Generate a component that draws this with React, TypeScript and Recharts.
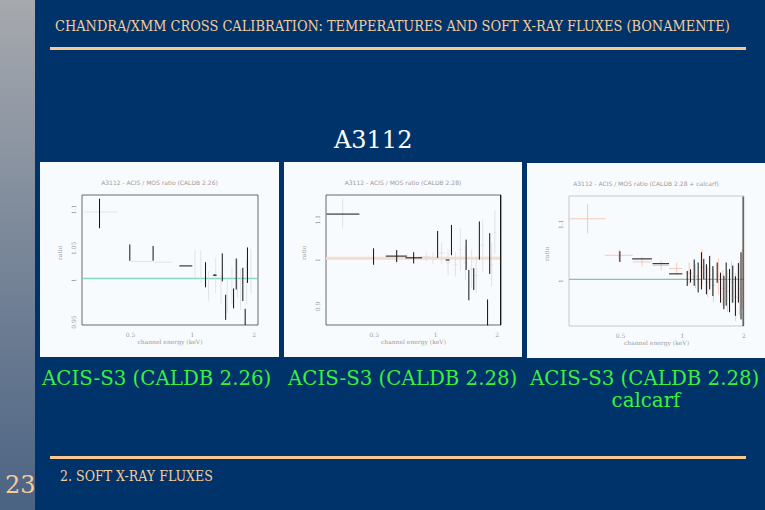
import { ScatterChart, Scatter, XAxis, YAxis, ErrorBar, ReferenceLine, ReferenceArea } from "recharts";

// panel 1: ACIS-S3 (CALDB 2.26)
const p1Energy = [0.353, 0.496, 0.644, 0.932, 1.16, 1.287, 1.4, 1.454, 1.589, 1.637, 1.763, 1.81, 1.857];
const p1Ratio = [1.088, 1.035, 1.034, 1.017, 1.005, 1.0045, 1.015, 0.961, 0.973, 1.006, 0.992, 0.948, 1.018];
const p1Err = [0.02, 0.011, 0.01, 0, 0.017, 0.001, 0.019, 0.017, 0.0135, 0.021, 0.0225, 0.011, 0.024];
const p1Lo = [0.353, 0.496, 0.644, 0.865, 1.16, 1.26, 1.4, 1.454, 1.589, 1.637, 1.763, 1.81, 1.857];
const p1Hi = [0.353, 0.496, 0.644, 1.0, 1.16, 1.315, 1.4, 1.454, 1.589, 1.637, 1.763, 1.81, 1.857];
const p1bEnergy = [0.35, 0.56, 0.72, 1.03, 1.1, 1.2, 1.3, 1.38, 1.48, 1.56, 1.66, 1.72, 1.84, 1.93];
const p1bRatio = [1.09, 1.023, 1.022, 1.02, 1.016, 0.99, 1.004, 0.985, 0.975, 0.99, 1.0, 0.985, 0.995, 1.01];
const p1bErr = [0.0, 0.0, 0.0, 0.018, 0.022, 0.02, 0.024, 0.02, 0.022, 0.025, 0.026, 0.028, 0.03, 0.03];
const p1bLo = [0.298, 0.5, 0.65, 1.03, 1.1, 1.2, 1.3, 1.38, 1.48, 1.56, 1.66, 1.72, 1.84, 1.93];
const p1bHi = [0.43, 0.64, 0.8, 1.03, 1.1, 1.2, 1.3, 1.38, 1.48, 1.56, 1.66, 1.72, 1.84, 1.93];

// panel 2: ACIS-S3 (CALDB 2.28)
const p2Energy = [0.35, 0.496, 0.644, 0.78, 1.022, 1.143, 1.195, 1.41, 1.454, 1.537, 1.637, 1.796, 1.84, 2.08];
const p2Ratio = [1.102, 1.004, 1.005, 1.001, 1.032, 0.996, 1.042, 1.008, 0.938, 0.952, 1.041, 0.875, 1.011, 0.996];
const p2Err = [0, 0.019, 0.014, 0.013, 0.031, 0, 0.035, 0.035, 0.035, 0.025, 0.044, 0.03, 0.047, 0.15];
const p2Lo = [0.292, 0.496, 0.569, 0.711, 1.022, 1.12, 1.195, 1.41, 1.454, 1.537, 1.637, 1.796, 1.84, 2.08];
const p2Hi = [0.423, 0.496, 0.724, 0.858, 1.022, 1.17, 1.195, 1.41, 1.454, 1.537, 1.637, 1.796, 1.84, 2.08];
const p2bEnergy = [0.35, 0.9, 0.97, 1.07, 1.15, 1.25, 1.32, 1.4, 1.5, 1.58, 1.7, 1.88, 1.95];
const p2bRatio = [1.104, 1.003, 1.0, 1.012, 0.99, 0.985, 1.02, 0.99, 0.975, 0.96, 1.03, 0.985, 1.06];
const p2bErr = [0.035, 0.01, 0.014, 0.025, 0.03, 0.028, 0.05, 0.04, 0.045, 0.04, 0.06, 0.05, 0.05];
const p2bLo = [0.35, 0.82, 0.93, 1.04, 1.12, 1.22, 1.3, 1.38, 1.47, 1.55, 1.67, 1.85, 1.93];
const p2bHi = [0.35, 0.94, 1.02, 1.1, 1.18, 1.28, 1.35, 1.43, 1.53, 1.61, 1.73, 1.91, 1.98];

// panel 3: ACIS-S3 (CALDB 2.28) calcarf
const p3Energy = [0.496, 0.636, 0.785, 0.93, 1.057, 1.097, 1.143, 1.195, 1.24, 1.273, 1.311, 1.36, 1.41, 1.48, 1.537, 1.595, 1.637, 1.7, 1.763, 1.816, 1.878, 1.934, 1.98];
const p3Ratio = [1.038, 1.034, 1.026, 1.009, 1.0014, 1.0056, 1.011, 1.003, 1.014, 1.017, 1.0, 1.011, 0.997, 1.011, 0.986, 0.978, 0.992, 0.981, 0.992, 0.972, 0.994, 0.989, 1.03];
const p3Err = [0.009, 0, 0, 0, 0.0125, 0.011, 0.022, 0.025, 0.031, 0.017, 0.025, 0.028, 0.025, 0.017, 0.025, 0.028, 0.036, 0.036, 0.031, 0.033, 0.033, 0.056, 0.108];
const p3Lo = [0.496, 0.569, 0.716, 0.862, 1.057, 1.097, 1.143, 1.195, 1.24, 1.273, 1.311, 1.36, 1.41, 1.48, 1.537, 1.595, 1.637, 1.7, 1.763, 1.816, 1.878, 1.934, 1.98];
const p3Hi = [0.496, 0.711, 0.862, 1.0, 1.057, 1.097, 1.143, 1.195, 1.24, 1.273, 1.311, 1.36, 1.41, 1.48, 1.537, 1.595, 1.637, 1.7, 1.763, 1.816, 1.878, 1.934, 1.98];
const p3bEnergy = [0.345, 0.491, 0.636, 0.789, 0.939, 1.08, 1.16, 1.25, 1.33, 1.42, 1.5, 1.58, 1.66, 1.74, 1.82, 1.9, 1.96];
const p3bRatio = [1.101, 1.04, 1.029, 1.023, 1.018, 1.01, 1.005, 1.02, 0.995, 0.99, 1.005, 0.985, 0.98, 0.995, 0.97, 0.985, 1.0];
const p3bErr = [0.025, 0.01, 0.008, 0.008, 0.01, 0.018, 0.02, 0.03, 0.025, 0.028, 0.03, 0.03, 0.035, 0.035, 0.04, 0.045, 0.05];
const p3bLo = [0.281, 0.42, 0.573, 0.716, 0.862, 1.04, 1.12, 1.22, 1.3, 1.39, 1.47, 1.55, 1.63, 1.71, 1.79, 1.87, 1.94];
const p3bHi = [0.423, 0.573, 0.711, 0.862, 1.0, 1.12, 1.2, 1.28, 1.36, 1.45, 1.53, 1.61, 1.69, 1.77, 1.85, 1.93, 1.99];

const xTicks = [0.5, 1, 2];

type Pt = { e: number; r: number; ey: number; ex: [number, number] };

const build = (en: number[], ra: number[], er: number[], lo: number[], hi: number[]): Pt[] =>
  en.map((e, i) => ({ e, r: ra[i], ey: er[i], ex: [e - lo[i], hi[i] - e] }));

const noDot = () => <g />;

const faint = "#9c9c9c";

type Series = { data: Pt[]; color: string; width: number };

function Panel(props: {
  left: number;
  top: number;
  w: number;
  title: string;
  xDomain: [number, number];
  yDomain: [number, number];
  yTicks: number[];
  refColor: string;
  refWidth: number;
  frame: string;
  series: Series[];
}) {
  const { left, top, w, title, xDomain, yDomain, yTicks, refColor, refWidth, frame, series } = props;
  const h = 195;
  return (
    <div style={{ position: "absolute", left, top, width: w, height: h, background: "#f8fbfd" }}>
      <div
        style={{
          position: "absolute",
          top: 17,
          width: "100%",
          textAlign: "center",
          fontSize: 6,
          color: faint,
          fontFamily: "DejaVu Sans",
        }}
      >
        {title}
      </div>
      <ScatterChart width={w} height={h} margin={{ top: 33, right: 21, bottom: 0, left: 12 }}>
        <XAxis
          dataKey="e"
          type="number"
          scale="log"
          domain={xDomain}
          allowDataOverflow
          ticks={xTicks}
          height={32}
          axisLine={false}
          tickLine={false}
          tick={{ fontSize: 6, fill: faint }}
          label={{ value: "channel energy (keV)", position: "insideBottom", offset: 13, fontSize: 6, fill: faint }}
        />
        <YAxis
          dataKey="r"
          type="number"
          domain={yDomain}
          allowDataOverflow
          ticks={yTicks}
          width={30}
          angle={-90}
          axisLine={false}
          tickLine={false}
          tick={{ fontSize: 6, fill: faint }}
          label={{ value: "ratio", angle: -90, position: "insideLeft", offset: 8, fontSize: 6, fill: faint }}
        />
        <ReferenceArea
          x1={xDomain[0]}
          x2={xDomain[1]}
          y1={yDomain[0]}
          y2={yDomain[1]}
          fill="none"
          stroke={frame}
          strokeWidth={0.8}
        />
        <ReferenceLine y={1} stroke={refColor} strokeWidth={refWidth} />
        {series.map((s, i) => (
          <Scatter key={i} data={s.data} shape={noDot} isAnimationActive={false}>
            <ErrorBar dataKey="ey" direction="y" width={0} stroke={s.color} strokeWidth={s.width} />
            <ErrorBar dataKey="ex" direction="x" width={0} stroke={s.color} strokeWidth={s.width} />
          </Scatter>
        ))}
      </ScatterChart>
    </div>
  );
}

const peach = "#f6cb9a";
const green = "#3cf03c";
const serif = "'DejaVu Serif', serif";

export default function App() {
  return (
    <div
      style={{
        position: "fixed",
        left: 0,
        top: 0,
        width: 765,
        height: 510,
        background: "#00336a",
        overflow: "hidden",
        fontFamily: serif,
      }}
    >
      <div
        style={{
          position: "absolute",
          left: 0,
          top: 0,
          width: 35,
          height: 510,
          background: "linear-gradient(#a6a9ae, #4b6383)",
        }}
      />
      <div
        style={{
          position: "absolute",
          left: 55,
          top: 18,
          fontSize: 14.4,
          fontStretch: "condensed",
          color: peach,
          whiteSpace: "nowrap",
        }}
      >
        CHANDRA/XMM CROSS CALIBRATION: TEMPERATURES AND SOFT X-RAY FLUXES (BONAMENTE)
      </div>
      <div style={{ position: "absolute", left: 50, top: 47, width: 696, height: 3, background: "#fbc990" }} />
      <div style={{ position: "absolute", left: 334, top: 126, fontSize: 24, color: "#ffffff", whiteSpace: "nowrap" }}>
        A3112
      </div>

      <Panel
        left={40}
        top={162}
        w={239}
        title="A3112 - ACIS / MOS ratio (CALDB 2.26)"
        xDomain={[0.29, 2.09]}
        yDomain={[0.937, 1.113]}
        yTicks={[0.95, 1, 1.05, 1.1]}
        refColor="#86d6c8"
        refWidth={1.5}
        frame="#444"
        series={[
          { data: build(p1bEnergy, p1bRatio, p1bErr, p1bLo, p1bHi), color: "#dcdcdc", width: 0.8 },
          { data: build(p1Energy, p1Ratio, p1Err, p1Lo, p1Hi), color: "#111", width: 1 },
        ]}
      />
      <Panel
        left={284}
        top={162}
        w={238}
        title="A3112 - ACIS / MOS ratio (CALDB 2.28)"
        xDomain={[0.29, 2.09]}
        yDomain={[0.846, 1.146]}
        yTicks={[0.9, 1, 1.1]}
        refColor="#f3dcd2"
        refWidth={3}
        frame="#444"
        series={[
          { data: build(p2bEnergy, p2bRatio, p2bErr, p2bLo, p2bHi), color: "#dcdcdc", width: 0.8 },
          { data: build(p2Energy, p2Ratio, p2Err, p2Lo, p2Hi), color: "#111", width: 1 },
        ]}
      />
      <Panel
        left={527}
        top={163}
        w={238}
        title="A3112 - ACIS / MOS ratio (CALDB 2.28 + calcarf)"
        xDomain={[0.28, 2.0]}
        yDomain={[0.922, 1.139]}
        yTicks={[1, 1.1]}
        refColor="#7aa89a"
        refWidth={1}
        frame="#bbb"
        series={[
          { data: build(p3bEnergy, p3bRatio, p3bErr, p3bLo, p3bHi), color: "#f6bcae", width: 0.8 },
          { data: build(p3Energy, p3Ratio, p3Err, p3Lo, p3Hi), color: "#111", width: 1 },
        ]}
      />

      <div style={{ position: "absolute", left: 42, top: 367, fontSize: 19.8, color: green, whiteSpace: "nowrap" }}>
        ACIS-S3 (CALDB 2.26)
      </div>
      <div style={{ position: "absolute", left: 288, top: 367, fontSize: 19.8, color: green, whiteSpace: "nowrap" }}>
        ACIS-S3 (CALDB 2.28)
      </div>
      <div style={{ position: "absolute", left: 530, top: 367, fontSize: 19.8, color: green, whiteSpace: "nowrap" }}>
        ACIS-S3 (CALDB 2.28)
      </div>
      <div style={{ position: "absolute", left: 527, width: 238, top: 389, textAlign: "center", fontSize: 19.8, color: green }}>
        calcarf
      </div>

      <div style={{ position: "absolute", left: 50, top: 456, width: 696, height: 3, background: "#fbc990" }} />
      <div
        style={{
          position: "absolute",
          left: 60,
          top: 468,
          fontSize: 14,
          fontStretch: "condensed",
          color: peach,
          whiteSpace: "nowrap",
        }}
      >
        2. SOFT X-RAY FLUXES
      </div>
      <div style={{ position: "absolute", left: 5, top: 471, fontSize: 24, color: peach }}>23</div>
    </div>
  );
}
